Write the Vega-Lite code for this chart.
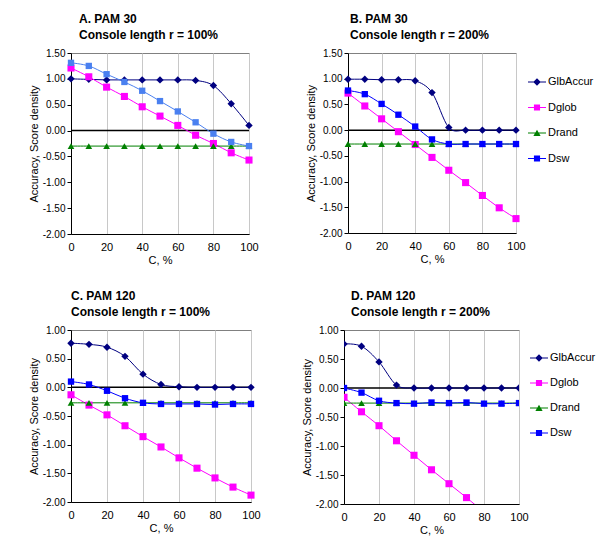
{
  "$schema": "https://vega.github.io/schema/vega-lite/v6.json",
  "background": "white",
  "padding": {"left": 27, "top": 12, "right": 5, "bottom": 5},
  "data": {"values": [
    {"panel":"A","series":"GlbAccur","C":0,"v":1.00},{"panel":"A","series":"GlbAccur","C":10,"v":0.99},{"panel":"A","series":"GlbAccur","C":20,"v":0.98},{"panel":"A","series":"GlbAccur","C":30,"v":0.98},{"panel":"A","series":"GlbAccur","C":40,"v":0.98},{"panel":"A","series":"GlbAccur","C":50,"v":0.98},{"panel":"A","series":"GlbAccur","C":60,"v":0.98},{"panel":"A","series":"GlbAccur","C":70,"v":0.97},{"panel":"A","series":"GlbAccur","C":80,"v":0.87},{"panel":"A","series":"GlbAccur","C":90,"v":0.52},{"panel":"A","series":"GlbAccur","C":100,"v":0.10},
    {"panel":"A","series":"Dglob","C":0,"v":1.21},{"panel":"A","series":"Dglob","C":10,"v":1.04},{"panel":"A","series":"Dglob","C":20,"v":0.84},{"panel":"A","series":"Dglob","C":30,"v":0.66},{"panel":"A","series":"Dglob","C":40,"v":0.46},{"panel":"A","series":"Dglob","C":50,"v":0.28},{"panel":"A","series":"Dglob","C":60,"v":0.10},{"panel":"A","series":"Dglob","C":70,"v":-0.09},{"panel":"A","series":"Dglob","C":80,"v":-0.25},{"panel":"A","series":"Dglob","C":90,"v":-0.43},{"panel":"A","series":"Dglob","C":100,"v":-0.57},
    {"panel":"A","series":"Drand","C":0,"v":-0.30},{"panel":"A","series":"Drand","C":10,"v":-0.30},{"panel":"A","series":"Drand","C":20,"v":-0.30},{"panel":"A","series":"Drand","C":30,"v":-0.30},{"panel":"A","series":"Drand","C":40,"v":-0.30},{"panel":"A","series":"Drand","C":50,"v":-0.30},{"panel":"A","series":"Drand","C":60,"v":-0.30},{"panel":"A","series":"Drand","C":70,"v":-0.30},{"panel":"A","series":"Drand","C":80,"v":-0.30},{"panel":"A","series":"Drand","C":90,"v":-0.30},{"panel":"A","series":"Drand","C":100,"v":-0.30},
    {"panel":"A","series":"Dsw","C":0,"v":1.31},{"panel":"A","series":"Dsw","C":10,"v":1.25},{"panel":"A","series":"Dsw","C":20,"v":1.09},{"panel":"A","series":"Dsw","C":30,"v":0.94},{"panel":"A","series":"Dsw","C":40,"v":0.77},{"panel":"A","series":"Dsw","C":50,"v":0.57},{"panel":"A","series":"Dsw","C":60,"v":0.37},{"panel":"A","series":"Dsw","C":70,"v":0.16},{"panel":"A","series":"Dsw","C":80,"v":-0.06},{"panel":"A","series":"Dsw","C":90,"v":-0.22},{"panel":"A","series":"Dsw","C":100,"v":-0.30},

    {"panel":"B","series":"GlbAccur","C":0,"v":0.99},{"panel":"B","series":"GlbAccur","C":10,"v":0.99},{"panel":"B","series":"GlbAccur","C":20,"v":0.98},{"panel":"B","series":"GlbAccur","C":30,"v":0.98},{"panel":"B","series":"GlbAccur","C":40,"v":0.96},{"panel":"B","series":"GlbAccur","C":50,"v":0.73},{"panel":"B","series":"GlbAccur","C":60,"v":0.05},{"panel":"B","series":"GlbAccur","C":70,"v":0.00},{"panel":"B","series":"GlbAccur","C":80,"v":0.00},{"panel":"B","series":"GlbAccur","C":90,"v":0.00},{"panel":"B","series":"GlbAccur","C":100,"v":0.00},
    {"panel":"B","series":"Dglob","C":0,"v":0.72},{"panel":"B","series":"Dglob","C":10,"v":0.47},{"panel":"B","series":"Dglob","C":20,"v":0.22},{"panel":"B","series":"Dglob","C":30,"v":-0.03},{"panel":"B","series":"Dglob","C":40,"v":-0.28},{"panel":"B","series":"Dglob","C":50,"v":-0.53},{"panel":"B","series":"Dglob","C":60,"v":-0.78},{"panel":"B","series":"Dglob","C":70,"v":-1.02},{"panel":"B","series":"Dglob","C":80,"v":-1.27},{"panel":"B","series":"Dglob","C":90,"v":-1.51},{"panel":"B","series":"Dglob","C":100,"v":-1.72},
    {"panel":"B","series":"Drand","C":0,"v":-0.27},{"panel":"B","series":"Drand","C":10,"v":-0.27},{"panel":"B","series":"Drand","C":20,"v":-0.27},{"panel":"B","series":"Drand","C":30,"v":-0.27},{"panel":"B","series":"Drand","C":40,"v":-0.27},{"panel":"B","series":"Drand","C":50,"v":-0.27},{"panel":"B","series":"Drand","C":60,"v":-0.27},{"panel":"B","series":"Drand","C":70,"v":-0.27},{"panel":"B","series":"Drand","C":80,"v":-0.27},{"panel":"B","series":"Drand","C":90,"v":-0.27},{"panel":"B","series":"Drand","C":100,"v":-0.27},
    {"panel":"B","series":"Dsw","C":0,"v":0.77},{"panel":"B","series":"Dsw","C":10,"v":0.70},{"panel":"B","series":"Dsw","C":20,"v":0.51},{"panel":"B","series":"Dsw","C":30,"v":0.30},{"panel":"B","series":"Dsw","C":40,"v":0.07},{"panel":"B","series":"Dsw","C":50,"v":-0.18},{"panel":"B","series":"Dsw","C":60,"v":-0.27},{"panel":"B","series":"Dsw","C":70,"v":-0.27},{"panel":"B","series":"Dsw","C":80,"v":-0.27},{"panel":"B","series":"Dsw","C":90,"v":-0.27},{"panel":"B","series":"Dsw","C":100,"v":-0.27},

    {"panel":"C","series":"GlbAccur","C":0,"v":0.77},{"panel":"C","series":"GlbAccur","C":10,"v":0.75},{"panel":"C","series":"GlbAccur","C":20,"v":0.70},{"panel":"C","series":"GlbAccur","C":30,"v":0.54},{"panel":"C","series":"GlbAccur","C":40,"v":0.23},{"panel":"C","series":"GlbAccur","C":50,"v":0.05},{"panel":"C","series":"GlbAccur","C":60,"v":0.01},{"panel":"C","series":"GlbAccur","C":70,"v":0.00},{"panel":"C","series":"GlbAccur","C":80,"v":0.00},{"panel":"C","series":"GlbAccur","C":90,"v":0.00},{"panel":"C","series":"GlbAccur","C":100,"v":0.00},
    {"panel":"C","series":"Dglob","C":0,"v":-0.13},{"panel":"C","series":"Dglob","C":10,"v":-0.31},{"panel":"C","series":"Dglob","C":20,"v":-0.48},{"panel":"C","series":"Dglob","C":30,"v":-0.67},{"panel":"C","series":"Dglob","C":40,"v":-0.86},{"panel":"C","series":"Dglob","C":50,"v":-1.04},{"panel":"C","series":"Dglob","C":60,"v":-1.23},{"panel":"C","series":"Dglob","C":70,"v":-1.41},{"panel":"C","series":"Dglob","C":80,"v":-1.58},{"panel":"C","series":"Dglob","C":90,"v":-1.74},{"panel":"C","series":"Dglob","C":100,"v":-1.88},
    {"panel":"C","series":"Drand","C":0,"v":-0.27},{"panel":"C","series":"Drand","C":10,"v":-0.27},{"panel":"C","series":"Drand","C":20,"v":-0.27},{"panel":"C","series":"Drand","C":30,"v":-0.27},{"panel":"C","series":"Drand","C":40,"v":-0.27},{"panel":"C","series":"Drand","C":50,"v":-0.27},{"panel":"C","series":"Drand","C":60,"v":-0.27},{"panel":"C","series":"Drand","C":70,"v":-0.27},{"panel":"C","series":"Drand","C":80,"v":-0.27},{"panel":"C","series":"Drand","C":90,"v":-0.27},{"panel":"C","series":"Drand","C":100,"v":-0.27},
    {"panel":"C","series":"Dsw","C":0,"v":0.10},{"panel":"C","series":"Dsw","C":10,"v":0.05},{"panel":"C","series":"Dsw","C":20,"v":-0.06},{"panel":"C","series":"Dsw","C":30,"v":-0.19},{"panel":"C","series":"Dsw","C":40,"v":-0.27},{"panel":"C","series":"Dsw","C":50,"v":-0.29},{"panel":"C","series":"Dsw","C":60,"v":-0.29},{"panel":"C","series":"Dsw","C":70,"v":-0.29},{"panel":"C","series":"Dsw","C":80,"v":-0.30},{"panel":"C","series":"Dsw","C":90,"v":-0.29},{"panel":"C","series":"Dsw","C":100,"v":-0.29},

    {"panel":"D","series":"GlbAccur","C":0,"v":0.76},{"panel":"D","series":"GlbAccur","C":10,"v":0.72},{"panel":"D","series":"GlbAccur","C":20,"v":0.45},{"panel":"D","series":"GlbAccur","C":30,"v":0.05},{"panel":"D","series":"GlbAccur","C":40,"v":0.00},{"panel":"D","series":"GlbAccur","C":50,"v":0.00},{"panel":"D","series":"GlbAccur","C":60,"v":0.00},{"panel":"D","series":"GlbAccur","C":70,"v":0.00},{"panel":"D","series":"GlbAccur","C":80,"v":0.00},{"panel":"D","series":"GlbAccur","C":90,"v":0.00},{"panel":"D","series":"GlbAccur","C":100,"v":0.00},
    {"panel":"D","series":"Dglob","C":0,"v":-0.16},{"panel":"D","series":"Dglob","C":10,"v":-0.41},{"panel":"D","series":"Dglob","C":20,"v":-0.65},{"panel":"D","series":"Dglob","C":30,"v":-0.91},{"panel":"D","series":"Dglob","C":40,"v":-1.16},{"panel":"D","series":"Dglob","C":50,"v":-1.41},{"panel":"D","series":"Dglob","C":60,"v":-1.65},{"panel":"D","series":"Dglob","C":70,"v":-1.89},{"panel":"D","series":"Dglob","C":80,"v":-2.14},{"panel":"D","series":"Dglob","C":90,"v":-2.38},{"panel":"D","series":"Dglob","C":100,"v":-2.62},
    {"panel":"D","series":"Drand","C":0,"v":-0.26},{"panel":"D","series":"Drand","C":10,"v":-0.26},{"panel":"D","series":"Drand","C":20,"v":-0.26},{"panel":"D","series":"Drand","C":30,"v":-0.26},{"panel":"D","series":"Drand","C":40,"v":-0.26},{"panel":"D","series":"Drand","C":50,"v":-0.26},{"panel":"D","series":"Drand","C":60,"v":-0.26},{"panel":"D","series":"Drand","C":70,"v":-0.26},{"panel":"D","series":"Drand","C":80,"v":-0.26},{"panel":"D","series":"Drand","C":90,"v":-0.26},{"panel":"D","series":"Drand","C":100,"v":-0.26},
    {"panel":"D","series":"Dsw","C":0,"v":0.00},{"panel":"D","series":"Dsw","C":10,"v":-0.08},{"panel":"D","series":"Dsw","C":20,"v":-0.22},{"panel":"D","series":"Dsw","C":30,"v":-0.26},{"panel":"D","series":"Dsw","C":40,"v":-0.27},{"panel":"D","series":"Dsw","C":50,"v":-0.25},{"panel":"D","series":"Dsw","C":60,"v":-0.26},{"panel":"D","series":"Dsw","C":70,"v":-0.25},{"panel":"D","series":"Dsw","C":80,"v":-0.27},{"panel":"D","series":"Dsw","C":90,"v":-0.27},{"panel":"D","series":"Dsw","C":100,"v":-0.26}
  ]},
  "resolve": {"scale": {"color": "independent", "shape": "independent", "size": "independent"}, "legend": {"color": "independent", "shape": "independent", "size": "independent"}},
  "spacing": 23,
  "vconcat": [
    {
      "spacing": 45,
      "resolve": {"scale": {"color": "independent", "shape": "independent", "size": "independent"}, "legend": {"color": "independent", "shape": "independent", "size": "independent"}},
      "hconcat": [
        {
          "width": 178, "height": 181,
          "title": {"text": ["A. PAM 30", "\u00a0Console length r = 100%"], "dx": 8},
          "transform": [{"filter": "datum.panel == 'A'"}],
          "layer": [
            {"data": {"values": [{}]}, "mark": {"type": "rule", "color": "black", "strokeWidth": 1.5}, "encoding": {"y": {"datum": 0, "type": "quantitative", "scale": {"domain": [-2, 1.5], "nice": false}, "axis": {"values": [-2, -1.5, -1, -0.5, 0, 0.5, 1, 1.5], "title": "Accuracy, Score density"}}}},
            {
              "encoding": {
                "x": {"field": "C", "type": "quantitative", "scale": {"domain": [0, 100], "nice": false}, "axis": {"values": [0, 20, 40, 60, 80, 100], "title": "C, %"}},
                "y": {"field": "v", "type": "quantitative", "scale": {"domain": [-2, 1.5], "nice": false}, "axis": {"values": [-2, -1.5, -1, -0.5, 0, 0.5, 1, 1.5], "title": "Accuracy, Score density"}},
                "color": {"field": "series", "type": "nominal", "scale": {"domain": ["GlbAccur", "Dglob", "Drand", "Dsw"], "range": ["#000080", "#FF00FF", "#008000", "#4A80F0"]}, "legend": null}
              },
              "layer": [
                {"mark": {"type": "line", "interpolate": "cardinal", "strokeWidth": 1}},
                {"mark": {"type": "point", "filled": true, "opacity": 1},
                 "encoding": {
                   "shape": {"field": "series", "type": "nominal", "scale": {"domain": ["GlbAccur", "Dglob", "Drand", "Dsw"], "range": ["diamond", "square", "triangle-up", "square"]}, "legend": null},
                   "size": {"field": "series", "type": "nominal", "scale": {"domain": ["GlbAccur", "Dglob", "Drand", "Dsw"], "range": [55, 40, 40, 36]}, "legend": null}
                 }}
              ]
            }
          ]
        },
        {
          "width": 168, "height": 180,
          "title": {"text": ["B. PAM 30", "\u00a0Console length r = 200%"], "dx": 2},
          "transform": [{"filter": "datum.panel == 'B'"}],
          "resolve": {"scale": {"color": "independent", "shape": "independent", "size": "independent"}, "legend": {"color": "independent", "shape": "independent", "size": "independent"}},
          "layer": [
            {"data": {"values": [{}]}, "mark": {"type": "rule", "color": "black", "strokeWidth": 1.5}, "encoding": {"y": {"datum": 0, "type": "quantitative", "scale": {"domain": [-2, 1.5], "nice": false}, "axis": {"values": [-2, -1.5, -1, -0.5, 0, 0.5, 1, 1.5], "title": "Accuracy, Score density"}}}},
            {
              "encoding": {
                "x": {"field": "C", "type": "quantitative", "scale": {"domain": [0, 100], "nice": false}, "axis": {"values": [0, 20, 40, 60, 80, 100], "title": "C, %"}},
                "y": {"field": "v", "type": "quantitative", "scale": {"domain": [-2, 1.5], "nice": false}, "axis": {"values": [-2, -1.5, -1, -0.5, 0, 0.5, 1, 1.5], "title": "Accuracy, Score density"}},
                "color": {"field": "series", "type": "nominal", "scale": {"domain": ["GlbAccur", "Dglob", "Drand", "Dsw"], "range": ["#000080", "#FF00FF", "#008000", "#0000FF"]}, "legend": null}
              },
              "layer": [
                {"mark": {"type": "line", "interpolate": "cardinal", "strokeWidth": 1}},
                {"mark": {"type": "point", "filled": true, "opacity": 1},
                 "encoding": {
                   "shape": {"field": "series", "type": "nominal", "scale": {"domain": ["GlbAccur", "Dglob", "Drand", "Dsw"], "range": ["diamond", "square", "triangle-up", "square"]}, "legend": null},
                   "size": {"field": "series", "type": "nominal", "scale": {"domain": ["GlbAccur", "Dglob", "Drand", "Dsw"], "range": [55, 40, 40, 36]}, "legend": null}
                 }}
              ]
            },
            {
              "transform": [{"filter": "datum.C > 1000"}],
              "mark": {"type": "point", "filled": true, "opacity": 1},
              "encoding": {
                "color": {"field": "series", "type": "nominal", "scale": {"domain": ["GlbAccur", "Dglob", "Drand", "Dsw"], "range": ["#000080", "#FF00FF", "#008000", "#0000FF"]},
                  "legend": {"title": null, "orient": "none", "legendX": 180, "legendY": 20, "symbolSize": 324, "symbolStrokeWidth": 0, "rowPadding": 11.5, "labelOffset": 2, "labelFontSize": 11, "labelFont": "Liberation Sans", "labelColor": "black", "padding": 0}},
                "shape": {"field": "series", "type": "nominal", "scale": {"domain": ["GlbAccur", "Dglob", "Drand", "Dsw"], "range": [
                  "M-1,-0.055L1,-0.055L1,0.055L-1,0.055Z M0,-0.42L0.42,0L0,0.42L-0.42,0Z",
                  "M-1,-0.055L1,-0.055L1,0.055L-1,0.055Z M-0.34,-0.34L0.34,-0.34L0.34,0.34L-0.34,0.34Z",
                  "M-1,-0.055L1,-0.055L1,0.055L-1,0.055Z M0,-0.36L0.4,0.32L-0.4,0.32Z",
                  "M-1,-0.055L1,-0.055L1,0.055L-1,0.055Z M-0.34,-0.34L0.34,-0.34L0.34,0.34L-0.34,0.34Z"]},
                  "legend": {"title": null, "orient": "none", "legendX": 180, "legendY": 20, "symbolSize": 324, "symbolStrokeWidth": 0, "rowPadding": 11.5, "labelOffset": 2, "labelFontSize": 11, "labelFont": "Liberation Sans", "labelColor": "black", "padding": 0}}
              }
            }
          ]
        }
      ]
    },
    {
      "spacing": 39,
      "resolve": {"scale": {"color": "independent", "shape": "independent", "size": "independent"}, "legend": {"color": "independent", "shape": "independent", "size": "independent"}},
      "hconcat": [
        {
          "width": 180, "height": 172,
          "title": {"text": ["C. PAM 120", "\u00a0Console length r = 100%"], "dx": 0},
          "transform": [{"filter": "datum.panel == 'C'"}],
          "layer": [
            {"data": {"values": [{}]}, "mark": {"type": "rule", "color": "black", "strokeWidth": 1.5}, "encoding": {"y": {"datum": 0, "type": "quantitative", "scale": {"domain": [-2, 1], "nice": false}, "axis": {"values": [-2, -1.5, -1, -0.5, 0, 0.5, 1], "title": "Accuracy, Score density"}}}},
            {
              "encoding": {
                "x": {"field": "C", "type": "quantitative", "scale": {"domain": [0, 100], "nice": false}, "axis": {"values": [0, 20, 40, 60, 80, 100], "title": "C, %"}},
                "y": {"field": "v", "type": "quantitative", "scale": {"domain": [-2, 1], "nice": false}, "axis": {"values": [-2, -1.5, -1, -0.5, 0, 0.5, 1], "title": "Accuracy, Score density"}},
                "color": {"field": "series", "type": "nominal", "scale": {"domain": ["GlbAccur", "Dglob", "Drand", "Dsw"], "range": ["#000080", "#FF00FF", "#008000", "#0000FF"]}, "legend": null}
              },
              "layer": [
                {"mark": {"type": "line", "interpolate": "cardinal", "strokeWidth": 1}},
                {"mark": {"type": "point", "filled": true, "opacity": 1},
                 "encoding": {
                   "shape": {"field": "series", "type": "nominal", "scale": {"domain": ["GlbAccur", "Dglob", "Drand", "Dsw"], "range": ["diamond", "square", "triangle-up", "square"]}, "legend": null},
                   "size": {"field": "series", "type": "nominal", "scale": {"domain": ["GlbAccur", "Dglob", "Drand", "Dsw"], "range": [55, 40, 40, 36]}, "legend": null}
                 }}
              ]
            }
          ]
        },
        {
          "width": 175, "height": 174,
          "title": {"text": ["D. PAM 120", "\u00a0Console length r = 200%"], "dx": 7},
          "transform": [{"filter": "datum.panel == 'D'"}],
          "resolve": {"scale": {"color": "independent", "shape": "independent", "size": "independent"}, "legend": {"color": "independent", "shape": "independent", "size": "independent"}},
          "layer": [
            {"data": {"values": [{}]}, "mark": {"type": "rule", "color": "black", "strokeWidth": 1.5}, "encoding": {"y": {"datum": 0, "type": "quantitative", "scale": {"domain": [-2, 1], "nice": false}, "axis": {"values": [-2, -1.5, -1, -0.5, 0, 0.5, 1], "title": "Accuracy, Score density"}}}},
            {
              "encoding": {
                "x": {"field": "C", "type": "quantitative", "scale": {"domain": [0, 100], "nice": false}, "axis": {"values": [0, 20, 40, 60, 80, 100], "title": "C, %"}},
                "y": {"field": "v", "type": "quantitative", "scale": {"domain": [-2, 1], "nice": false}, "axis": {"values": [-2, -1.5, -1, -0.5, 0, 0.5, 1], "title": "Accuracy, Score density"}},
                "color": {"field": "series", "type": "nominal", "scale": {"domain": ["GlbAccur", "Dglob", "Drand", "Dsw"], "range": ["#000080", "#FF00FF", "#008000", "#0000FF"]}, "legend": null}
              },
              "layer": [
                {"mark": {"type": "line", "interpolate": "cardinal", "strokeWidth": 1, "clip": true}},
                {"mark": {"type": "point", "filled": true, "opacity": 1, "clip": true},
                 "encoding": {
                   "shape": {"field": "series", "type": "nominal", "scale": {"domain": ["GlbAccur", "Dglob", "Drand", "Dsw"], "range": ["diamond", "square", "triangle-up", "square"]}, "legend": null},
                   "size": {"field": "series", "type": "nominal", "scale": {"domain": ["GlbAccur", "Dglob", "Drand", "Dsw"], "range": [55, 40, 40, 36]}, "legend": null}
                 }}
              ]
            },
            {
              "transform": [{"filter": "datum.C > 1000"}],
              "mark": {"type": "point", "filled": true, "opacity": 1},
              "encoding": {
                "color": {"field": "series", "type": "nominal", "scale": {"domain": ["GlbAccur", "Dglob", "Drand", "Dsw"], "range": ["#000080", "#FF00FF", "#008000", "#0000FF"]},
                  "legend": {"title": null, "orient": "none", "legendX": 186, "legendY": 19, "symbolSize": 324, "symbolStrokeWidth": 0, "rowPadding": 11, "labelOffset": 2, "labelFontSize": 11, "labelFont": "Liberation Sans", "labelColor": "black", "padding": 0}},
                "shape": {"field": "series", "type": "nominal", "scale": {"domain": ["GlbAccur", "Dglob", "Drand", "Dsw"], "range": [
                  "M-1,-0.055L1,-0.055L1,0.055L-1,0.055Z M0,-0.42L0.42,0L0,0.42L-0.42,0Z",
                  "M-1,-0.055L1,-0.055L1,0.055L-1,0.055Z M-0.34,-0.34L0.34,-0.34L0.34,0.34L-0.34,0.34Z",
                  "M-1,-0.055L1,-0.055L1,0.055L-1,0.055Z M0,-0.36L0.4,0.32L-0.4,0.32Z",
                  "M-1,-0.055L1,-0.055L1,0.055L-1,0.055Z M-0.34,-0.34L0.34,-0.34L0.34,0.34L-0.34,0.34Z"]},
                  "legend": {"title": null, "orient": "none", "legendX": 186, "legendY": 19, "symbolSize": 324, "symbolStrokeWidth": 0, "rowPadding": 11, "labelOffset": 2, "labelFontSize": 11, "labelFont": "Liberation Sans", "labelColor": "black", "padding": 0}}
              }
            }
          ]
        }
      ]
    }
  ],
  "config": {
    "font": "Liberation Sans",
    "view": {"stroke": "#808080", "strokeWidth": 1},
    "title": {"font": "Liberation Sans", "fontSize": 12, "fontWeight": "bold", "color": "black", "anchor": "start", "frame": "group", "lineHeight": 16, "offset": 6},
    "axis": {
      "labelFont": "Liberation Sans", "labelFontSize": 11, "labelColor": "black", "labelOverlap": false,
      "titleFont": "Liberation Sans", "titleFontSize": 11, "titleFontWeight": "normal", "titleColor": "black",
      "gridColor": "#c8c8c8", "gridWidth": 1, "domainColor": "black", "domainWidth": 1, "tickColor": "black"
    },
    "axisX": {"ticks": false, "labelPadding": 7, "titlePadding": 2, "labelFlush": false},
    "axisY": {"tickSize": 4, "labelPadding": 2, "titlePadding": 3, "labelFontSize": 10, "labelExpr": "replace(format(datum.value, '.2f'), '\u2212', '-')"}
  }
}
